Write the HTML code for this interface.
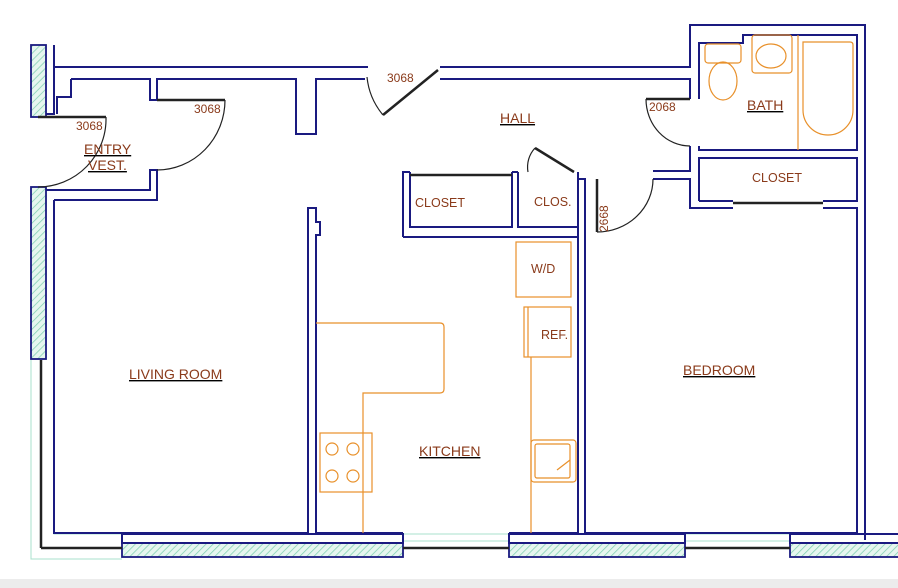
<!DOCTYPE html>
<html><head><meta charset="utf-8"><style>
html,body{margin:0;padding:0;background:#fff;width:898px;height:588px;overflow:hidden}
svg{display:block}
text{font-family:"Liberation Sans",sans-serif;fill:#8a3a1a}
</style></head><body>
<svg width="898" height="588" viewBox="0 0 898 588" xmlns="http://www.w3.org/2000/svg">
<defs>
<pattern id="h" width="5" height="5" patternUnits="userSpaceOnUse" patternTransform="rotate(45)">
<rect width="5" height="5" fill="#e6f6ef"/><line x1="0" y1="0" x2="0" y2="5" stroke="#7fcfb0" stroke-width="1.5"/></pattern>
</defs>
<rect x="0" y="579" width="898" height="9" fill="#ececec"/>
<g fill="none" stroke="#a8e0cc" stroke-width="1">
<polyline points="31,359 31,559 122,559"/><polyline points="54,359 54,534 122,534"/>
<rect x="403" y="534" width="106" height="7"/><rect x="685" y="534" width="105" height="7"/>
</g>
<g stroke="#1a1a80" stroke-width="1.8" fill="url(#h)">
<rect x="31" y="45" width="15" height="72"/>
<rect x="31" y="187" width="15" height="172"/>
<rect x="122" y="543" width="281" height="14"/>
<rect x="509" y="543" width="176" height="14"/>
<rect x="790" y="543" width="110" height="14"/>
</g>
<g fill="none" stroke="#1a1a80" stroke-width="2">
<rect x="122" y="534" width="281" height="9"/><rect x="509" y="534" width="176" height="9"/><rect x="790" y="534" width="110" height="9"/>
<polyline points="54,45 54,114 46,114"/>
<polyline points="54,200 54,533 308,533 308,208 316,208 316,222 320,222 320,235 316,235 316,533 403,533"/>
<polyline points="53,67 368,67"/>
<polyline points="71,79 150,79 150,100 157,100 157,79 296,79 296,134 316,134 316,79 365,79"/>
<polyline points="71,79 71,97 57,97 57,114"/>
<polyline points="46,190 150,190 150,170 157,170 157,200 54,200"/>
<polyline points="440,67 690,67 690,25 865,25 865,540"/>
<polyline points="440,79 690,79 690,99"/>
<polyline points="699,99 699,43 743,43 743,35 857,35 857,150 699,150 699,146"/>
<polyline points="690,146 690,171 653,171"/>
<polyline points="653,179 690,179 690,208 733,208"/>
<polyline points="823,208 857,208 857,533 585,533 585,179 578,179 578,533 509,533"/>
<polyline points="699,201 699,158 857,158 857,201 823,201"/><line x1="699" y1="201" x2="733" y2="201"/>
<polyline points="403,237 578,237 578,172"/>
<polyline points="410,172 410,227 512,227 512,172"/>
<polyline points="403,237 403,172 410,172"/>
<polyline points="518,172 518,227 578,227"/>
<polyline points="512,172 518,172"/>
</g>
<g fill="none" stroke="#222" stroke-width="1.2">
<line x1="38" y1="117" x2="106" y2="117" stroke-width="2.5"/>
<path d="M106,117 A68,68 0 0 1 38,187"/>
<line x1="157" y1="100" x2="225" y2="100" stroke-width="2.5"/>
<path d="M225,100 A68,70 0 0 1 157,170"/>
<line x1="438" y1="70" x2="383" y2="115" stroke-width="2.5"/>
<path d="M367,77 A70,70 0 0 0 383,115"/>
<line x1="646" y1="99" x2="690" y2="99" stroke-width="2.5"/>
<path d="M646,99 A44,47 0 0 0 690,146"/>
<line x1="597" y1="179" x2="597" y2="232" stroke-width="2.5"/>
<path d="M597,232 A56,53 0 0 0 653,179"/>
<line x1="535" y1="148" x2="574" y2="172" stroke-width="2.5"/>
<path d="M535,148 A28,28 0 0 0 528,172"/>
<line x1="410" y1="175" x2="512" y2="175" stroke-width="2.5"/>
<line x1="733" y1="203" x2="823" y2="203" stroke-width="2.5"/>
<line x1="41" y1="360" x2="41" y2="548" stroke-width="2.5"/>
<line x1="41" y1="548" x2="122" y2="548" stroke-width="2.5"/>
<line x1="403" y1="548" x2="509" y2="548" stroke-width="2.5"/>
<line x1="685" y1="548" x2="790" y2="548" stroke-width="2.5"/>
</g>
<g fill="none" stroke="#e8902a" stroke-width="1.2">
<path d="M316,323 H440 Q444,323 444,327 V389 Q444,393 440,393 H363 V533"/>
<rect x="516" y="242" width="55" height="55"/>
<rect x="524" y="307" width="47" height="50"/><line x1="528" y1="307" x2="528" y2="357"/>
<line x1="531" y1="357" x2="531" y2="533"/>
<rect x="531" y="440" width="45" height="42" rx="3"/><rect x="535" y="444" width="35" height="34" rx="2"/>
<line x1="557" y1="470" x2="570" y2="460"/>
<rect x="320" y="433" width="52" height="59"/>
<circle cx="332" cy="449" r="6"/><circle cx="353" cy="449" r="6"/><circle cx="332" cy="476" r="6"/><circle cx="353" cy="476" r="6"/>
<rect x="705" y="44" width="36" height="19" rx="3"/>
<ellipse cx="723" cy="81" rx="14" ry="19"/>
<rect x="752" y="35" width="40" height="38" rx="3"/>
<ellipse cx="771" cy="56" rx="15" ry="12"/>
<line x1="798" y1="35" x2="798" y2="150"/>
<path d="M803,42 H850 Q853,42 853,45 V110 A25,25 0 0 1 803,110 Z"/>
</g>
<g font-size="12">
<text x="76" y="130">3068</text><text x="194" y="113">3068</text><text x="387" y="82">3068</text>
<text x="649" y="111">2068</text>
<text x="608" y="232" transform="rotate(-90 608 232)">2668</text>
</g>
<g font-size="14" text-decoration="underline">
<text x="84" y="154">ENTRY</text><text x="88" y="170">VEST.</text>
<text x="500" y="123">HALL</text><text x="747" y="110">BATH</text>
<text x="129" y="379">LIVING ROOM</text><text x="683" y="375">BEDROOM</text>
<text x="419" y="456">KITCHEN</text>
</g>
<g font-size="12.5">
<text x="415" y="207">CLOSET</text><text x="534" y="206">CLOS.</text>
<text x="752" y="182">CLOSET</text><text x="531" y="273">W/D</text><text x="541" y="339">REF.</text>
</g>
</svg>
</body></html>
